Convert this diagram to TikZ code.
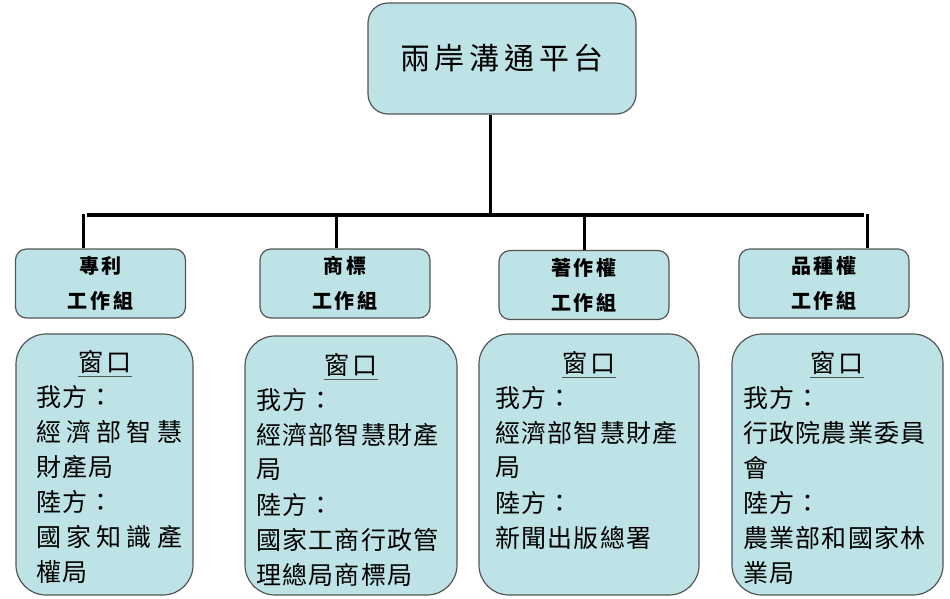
\documentclass[tikz,border=0pt]{standalone}
\usepackage{fontspec}
\newfontfamily\cjk{Noto Sans CJK TC}
\newfontfamily\cjkT[LetterSpace=16]{Noto Sans CJK TC}
\newfontfamily\cjkH[LetterSpace=14]{Noto Sans CJK TC}
\newfontfamily\cjkB[LetterSpace=5]{Noto Sans CJK TC}
\definecolor{boxfill}{RGB}{190,227,230}
\definecolor{boxline}{RGB}{85,85,85}
\tikzset{
  topbox/.style={draw=boxline, fill=boxfill, line width=1.2pt, rounded corners=20pt, minimum width=268pt, minimum height=111pt, inner sep=0pt},
  headbox/.style={draw=boxline, fill=boxfill, line width=1.2pt, rounded corners=11pt, minimum width=170pt, minimum height=69pt, inner sep=0pt, align=center},
  lowbox/.style={draw=boxline, fill=boxfill, line width=1.2pt, rounded corners=30pt, minimum height=261pt, inner sep=0pt},
  bodytxt/.style={anchor=west, inner sep=0pt, font=\cjkB\fontsize{25pt}{26pt}\selectfont},
  wintxt/.style={inner sep=0pt, font=\cjkB\fontsize{25pt}{26pt}\selectfont},
  conn/.style={line width=3pt, black},
  bus/.style={line width=4.5pt, black},
  uline/.style={line width=1.2pt, boxline}
}
\begin{document}
\begin{tikzpicture}[x=1pt,y=-1pt]
\useasboundingbox (0,0) rectangle (950,598);
% top
\node[topbox, font=\cjkT\fontsize{30pt}{32pt}\selectfont] (top) at (502,58.5) {兩岸溝通平台};
% headers
\node[headbox, font=\cjkH\bfseries\fontsize{20pt}{35pt}\selectfont] (h1) at (100.5,283.5) {專利\\工作組};
\node[headbox, font=\cjkH\bfseries\fontsize{20pt}{35pt}\selectfont] (h2) at (345,283.5) {商標\\工作組};
\node[headbox, font=\cjkH\bfseries\fontsize{20pt}{35pt}\selectfont] (h3) at (584,285) {著作權\\工作組};
\node[headbox, font=\cjkH\bfseries\fontsize{20pt}{35pt}\selectfont] (h4) at (824,283.5) {品種權\\工作組};
% bus
\coordinate (t0) at (490,215);
\coordinate (bl) at (87,215);
\coordinate (br) at (864,215);
\coordinate (d1) at (83,214);
\coordinate (d2) at (336,214);
\coordinate (d3) at (584,214);
\coordinate (d4) at (867,214);
\draw[conn] (top.south -| t0) -- (t0);
\draw[bus] (bl) -- (br);
\draw[conn] (d1) -- (d1 |- h1.north);
\draw[conn] (d2) -- (d2 |- h2.north);
\draw[conn] (d3) -- (d3 |- h3.north);
\draw[conn] (d4) -- (d4 |- h4.north);
% lower boxes
\node[lowbox, minimum width=177pt] (w1) at (104.5,464.5) {};
\node[lowbox, minimum width=212pt, minimum height=259pt] (w2) at (351,465.5) {};
\node[lowbox, minimum width=220pt] (w3) at (589,464.5) {};
\node[lowbox, minimum width=211pt] (w4) at (837.5,464.5) {};
% window titles
\node[wintxt] (n1) at (105,362) {窗\hspace{3pt}口};
\node[wintxt] (n2) at (351,365) {窗\hspace{3pt}口};
\node[wintxt] (n3) at (589,363) {窗\hspace{3pt}口};
\node[wintxt] (n4) at (837,363) {窗\hspace{3pt}口};
\draw[uline] ([xshift=-27pt,yshift=-3pt]n1.south) -- ([xshift=27pt,yshift=-3pt]n1.south);
\draw[uline] ([xshift=-27pt,yshift=-3pt]n2.south) -- ([xshift=27pt,yshift=-3pt]n2.south);
\draw[uline] ([xshift=-27pt,yshift=-3pt]n3.south) -- ([xshift=27pt,yshift=-3pt]n3.south);
\draw[uline] ([xshift=-27pt,yshift=-3pt]n4.south) -- ([xshift=27pt,yshift=-3pt]n4.south);
% body lines
\foreach \t [count=\i] in {我方：,{\makebox[146pt][s]{經\hfill 濟\hfill 部\hfill 智\hfill 慧}},財產局,陸方：,{\makebox[146pt][s]{國\hfill 家\hfill 知\hfill 識\hfill 產}},權局}
  \node[bodytxt] (a\i) at (36,397+35*\i-35) {\t};
\foreach \t [count=\i] in {我方：,經濟部智慧財產,局,陸方：,國家工商行政管,理總局商標局}
  \node[bodytxt] (b\i) at (256,400+35*\i-35) {\t};
\foreach \t [count=\i] in {我方：,經濟部智慧財產,局,陸方：,新聞出版總署}
  \node[bodytxt] (c\i) at (495,398+35*\i-35) {\t};
\foreach \t [count=\i] in {我方：,行政院農業委員,會,陸方：,農業部和國家林,業局}
  \node[bodytxt] (e\i) at (743,398+35*\i-35) {\t};
\end{tikzpicture}
\end{document}
